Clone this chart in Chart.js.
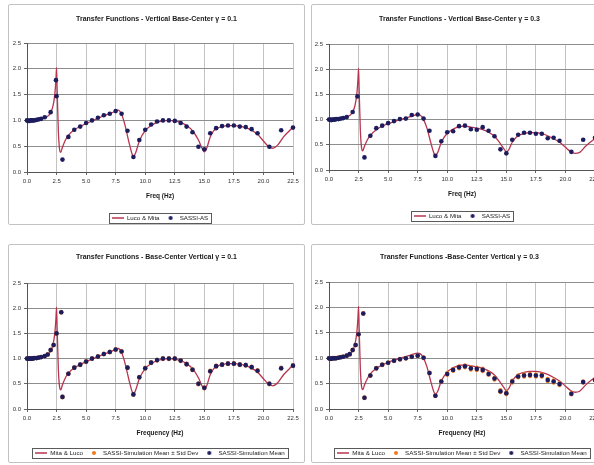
<!DOCTYPE html>
<html>
<head>
<meta charset="utf-8">
<script src="https://cdn.jsdelivr.net/npm/chart.js@4"></script>
<style>
  html, body { margin: 0; padding: 0; background: #fff; width: 594px; height: 465px; overflow: hidden; }
  .panel { position: absolute; box-sizing: border-box; border: 1px solid #c2c2c2; border-radius: 2px; background: #fff; }
  canvas { position: absolute; }
</style>
</head>
<body>
<script>
// ---- Analytical transfer function (Luco & Mita), shared frequency grid ----
const lucoMitaFreq = [0,0.5,1.0,1.5,1.8,2.0,2.2,2.35,2.45,2.5,
  2.55,2.65,2.75,2.85,3.0,3.25,3.5,4.0,4.5,5.0,
  5.5,6.0,6.5,7.0,7.5,7.7,8.0,8.3,8.6,8.9,
  9.0,9.2,9.5,10.0,10.5,11.0,11.5,12.0,12.5,13.0,
  13.5,14.0,14.5,14.8,15.0,15.2,15.5,15.8,16.0,16.5,
  17.0,17.5,18.0,18.5,19.0,19.5,20.0,20.4,20.8,21.2,
  21.7,22.2,22.5];
const lucoMitaG01 = [1.0,1.005,1.02,1.05,1.09,1.15,1.28,1.5,1.8,2.02,
  1.6,0.8,0.45,0.38,0.48,0.62,0.71,0.82,0.88,0.94,
  0.99,1.04,1.09,1.13,1.18,1.2,1.12,0.9,0.6,0.34,
  0.3,0.38,0.6,0.8,0.9,0.96,0.99,1.0,0.99,0.96,
  0.9,0.8,0.62,0.46,0.39,0.46,0.68,0.8,0.84,0.88,
  0.9,0.9,0.89,0.86,0.81,0.73,0.6,0.5,0.46,0.52,
  0.68,0.8,0.87];
const lucoMitaG03 = [1.0,1.005,1.02,1.05,1.09,1.15,1.28,1.5,1.8,2.02,
  1.6,0.8,0.45,0.38,0.47,0.6,0.69,0.8,0.87,0.92,
  0.96,1.0,1.03,1.07,1.1,1.09,1.0,0.82,0.55,0.32,
  0.29,0.35,0.55,0.73,0.81,0.86,0.87,0.85,0.83,0.8,
  0.75,0.67,0.52,0.42,0.36,0.4,0.55,0.64,0.68,0.72,
  0.74,0.74,0.72,0.68,0.62,0.55,0.45,0.37,0.33,0.35,
  0.47,0.57,0.62];

// ---- SASSI-AS results ----
const sassiAsFreqG01 = [0,0.1,0.2,0.3,0.4,0.5,0.6,0.8,1.0,1.2,1.5,2.0,2.45,2.5,
  3.0,3.5,4.0,4.5,5.0,5.5,6.0,6.5,7.0,7.5,
  8.0,8.5,9.0,9.5,10.0,10.5,11.0,11.5,12.0,12.5,
  13.0,13.5,14.0,14.5,15.0,15.5,16.0,16.5,17.0,17.5,
  18.0,18.5,19.0,19.5,20.5,21.5,22.5];
const sassiAsG01 = [1.0,0.99,0.99,1.0,1.0,1.0,1.0,1.01,1.02,1.03,1.06,1.16,1.78,1.47,
  0.24,0.68,0.82,0.88,0.95,1.0,1.05,1.1,1.13,1.18,
  1.13,0.8,0.29,0.62,0.82,0.92,0.98,1.0,1.0,0.99,
  0.95,0.88,0.77,0.49,0.44,0.75,0.85,0.89,0.9,0.9,
  0.88,0.87,0.83,0.75,0.49,0.81,0.86];
const sassiAsFreqG03 = [0,0.1,0.2,0.3,0.4,0.5,0.6,0.8,1.0,1.2,1.5,2.0,2.4,
  3.0,3.5,4.0,4.5,5.0,5.5,6.0,6.5,7.0,7.5,
  8.0,8.5,9.0,9.5,10.0,10.5,11.0,11.5,12.0,12.5,
  13.0,13.5,14.0,14.5,15.0,15.5,16.0,16.5,17.0,17.5,
  18.0,18.5,19.0,19.5,20.5,21.5,22.5];
const sassiAsG03 = [1.0,1.0,0.99,1.0,1.0,1.0,1.01,1.01,1.02,1.03,1.05,1.15,1.46,
  0.25,0.68,0.83,0.88,0.93,0.97,1.01,1.02,1.09,1.1,
  1.02,0.78,0.28,0.57,0.75,0.77,0.87,0.88,0.81,0.8,
  0.85,0.78,0.67,0.41,0.33,0.6,0.7,0.74,0.74,0.72,
  0.72,0.63,0.64,0.58,0.36,0.6,0.64];

// ---- SASSI simulation statistics ----
const simFreq = [0,0.1,0.2,0.3,0.4,0.5,0.6,0.8,1.0,1.2,1.5,
  1.75,2.0,2.25,2.5,2.9,
  3.0,3.5,4.0,4.5,5.0,5.5,6.0,6.5,7.0,7.5,
  8.0,8.5,9.0,9.5,10.0,10.5,11.0,11.5,12.0,12.5,
  13.0,13.5,14.0,14.5,15.0,15.5,16.0,16.5,17.0,17.5,
  18.0,18.5,19.0,19.5,
  20.5,21.5,22.5];
const simMeanG01 = [1.0,1.0,1.0,1.0,1.0,1.0,1.01,1.01,1.02,1.03,1.05,
  1.08,1.17,1.27,1.5,1.92,
  0.24,0.7,0.82,0.88,0.94,1.0,1.04,1.09,1.13,1.18,
  1.14,0.82,0.29,0.63,0.81,0.92,0.97,1.0,1.0,1.0,
  0.96,0.89,0.78,0.5,0.42,0.75,0.85,0.88,0.9,0.9,
  0.88,0.87,0.83,0.76,
  0.5,0.81,0.86];
const simStdG01 = [0.005,0.005,0.005,0.005,0.005,0.005,0.005,0.005,0.005,0.005,0.005,
  0.01,0.01,0.01,0.01,0.01,
  0.01,0.01,0.01,0.01,0.01,0.01,0.01,0.01,0.01,0.01,
  0.01,0.01,0.01,0.01,0.012,0.012,0.012,0.012,0.012,0.012,
  0.012,0.012,0.012,0.012,0.012,0.012,0.012,0.012,0.012,0.012,
  0.012,0.012,0.012,0.012,
  0.012,0.012,0.012];
const simMeanG03 = [1.0,0.99,0.99,1.0,1.0,1.0,1.0,1.01,1.02,1.03,1.05,
  1.08,1.16,1.26,1.47,1.88,
  0.22,0.66,0.8,0.87,0.91,0.95,0.98,1.0,1.03,1.05,
  1.01,0.71,0.26,0.54,0.69,0.77,0.82,0.84,0.8,0.79,
  0.77,0.69,0.6,0.35,0.31,0.54,0.64,0.66,0.67,0.66,
  0.66,0.57,0.54,0.49,
  0.3,0.53,0.57];
const simStdG03 = [0.008,0.008,0.008,0.008,0.008,0.008,0.008,0.008,0.008,0.008,0.008,
  0.01,0.01,0.01,0.01,0.01,
  0.01,0.01,0.01,0.01,0.01,0.01,0.01,0.01,0.01,0.01,
  0.01,0.01,0.01,0.01,0.022,0.022,0.022,0.022,0.025,0.025,
  0.025,0.022,0.022,0.022,0.022,0.022,0.022,0.025,0.025,0.025,
  0.025,0.025,0.025,0.022,
  0.015,0.015,0.015];

// ---- Axis ticks ----
const freqTicks = [0, 2.5, 5.0, 7.5, 10.0, 12.5, 15.0, 17.5, 20.0, 22.5];
const ampTicks = [0, 0.5, 1.0, 1.5, 2.0, 2.5];

// ---- Styling ----
const FONT = "'Liberation Sans', Arial, sans-serif";
const LINE_COLOR = '#b8344f';
const DOT_COLOR = '#1d1d5e';
const STD_COLOR = '#f07a22';
const TITLE_SIZE = 7, TICK_SIZE = 6, AXIS_TITLE_SIZE = 6.5, LEG_SIZE = 6.2, LEG_PAD = 5;

function pts(xs, ys) { return xs.map((x, i) => ({ x, y: ys[i] })); }
function bandPts(xs, mean, sd) {
  const out = [];
  xs.forEach((x, i) => { out.push({ x, y: mean[i] + sd[i] }); out.push({ x, y: mean[i] - sd[i] }); });
  return out;
}

function lineIcon(color) {
  const c = document.createElement('canvas'); c.width = 12; c.height = 4;
  const g = c.getContext('2d'); g.strokeStyle = color; g.lineWidth = 1.5;
  g.beginPath(); g.moveTo(0, 2); g.lineTo(12, 2); g.stroke();
  return c;
}
function dotIcon(color) {
  const c = document.createElement('canvas'); c.width = 6; c.height = 6;
  const g = c.getContext('2d'); g.fillStyle = color;
  g.beginPath(); g.arc(3, 3, 2.0, 0, Math.PI * 2); g.fill();
  return c;
}

function lineSet(label, xs, ys) {
  return { label, data: pts(xs, ys), showLine: true, borderColor: LINE_COLOR, borderWidth: 1.3,
    pointRadius: 0, cubicInterpolationMode: 'monotone', order: 3, legendIcon: lineIcon(LINE_COLOR) };
}
function dotSet(label, data, color, order, radius) {
  return { label, data, showLine: false, pointRadius: radius, pointBackgroundColor: color,
    pointBorderWidth: 0, backgroundColor: color, borderColor: color, order, clip: 6, legendIcon: dotIcon(color) };
}

// Center the legend on the plot area, the title on the whole panel, and frame the legend.
const panelDecor = {
  id: 'panelDecor',
  afterLayout(chart) {
    const a = chart.chartArea, lg = chart.legend;
    if (lg) { lg.left = a.left; lg.right = a.right; lg.width = a.right - a.left; }
    const t = chart.titleBlock;
    if (t) { t.left = 0; t.right = chart.width; t.width = chart.width; }
  },
  afterDraw(chart) {
    const hb = chart.legend && chart.legend.legendHitBoxes;
    if (!hb || !hb.length) return;
    let l = Infinity, r = -Infinity, t = Infinity, b = -Infinity;
    hb.forEach(h => { l = Math.min(l, h.left); r = Math.max(r, h.left + h.width); t = Math.min(t, h.top); b = Math.max(b, h.top + h.height); });
    const ctx = chart.ctx;
    ctx.save();
    ctx.strokeStyle = '#5a5a5a'; ctx.lineWidth = 1;
    ctx.strokeRect(Math.round(l - 3) + 0.5, Math.round(t - 2) + 0.5, Math.round(r - l + 6), Math.round(b - t + 4));
    ctx.restore();
  }
};

function buildPanel(g, titleText, xTitle, datasets) {
  const div = document.createElement('div');
  div.className = 'panel';
  Object.assign(div.style, { left: g.left + 'px', top: g.top + 'px', width: g.width + 'px', height: g.height + 'px' });
  document.body.appendChild(div);
  const cv = document.createElement('canvas');
  cv.width = g.width; cv.height = g.height;
  Object.assign(cv.style, { left: g.left + 'px', top: g.top + 'px', width: g.width + 'px', height: g.height + 'px' });
  document.body.appendChild(cv);

  const pl = g.plotLeft - g.left, pr = g.plotRight - g.left;
  const pt = g.plotTop - g.top, pb = g.plotBottom - g.top;
  const titleLH = TITLE_SIZE * 1.2;
  const tPadTop = (g.titleY - g.top) - titleLH / 2;
  const tPadBottom = pt - titleLH - tPadTop;
  const legTop = (g.legendY - g.top) - LEG_PAD - LEG_SIZE / 2;
  const legH = g.height - legTop;
  const xScaleH = legTop - pb;
  const xTitlePadBottom = legTop - (g.xTitleY - g.top) - AXIS_TITLE_SIZE * 1.2 / 2;

  new Chart(cv, {
    type: 'scatter',
    data: { datasets },
    options: {
      responsive: false, animation: false, devicePixelRatio: 1,
      layout: { padding: { left: 0, top: 0, bottom: 0, right: g.width - pr } },
      plugins: {
        title: { display: true, text: titleText, color: '#1a1a1a',
          font: { family: FONT, size: TITLE_SIZE, weight: 'bold' },
          padding: { top: tPadTop, bottom: tPadBottom } },
        legend: { position: 'bottom', maxHeight: legH,
          labels: { usePointStyle: true, pointStyleWidth: 12, padding: LEG_PAD, color: '#222',
            font: { family: FONT, size: LEG_SIZE },
            generateLabels(chart) {
              const items = Chart.defaults.plugins.legend.labels.generateLabels(chart);
              items.sort((a, b) => a.datasetIndex - b.datasetIndex);
              items.forEach(it => { it.pointStyle = chart.data.datasets[it.datasetIndex].legendIcon; });
              return items;
            } } },
        tooltip: { enabled: false }
      },
      scales: {
        x: { type: 'linear', min: freqTicks[0], max: freqTicks[freqTicks.length - 1],
          afterBuildTicks: s => { s.ticks = freqTicks.map(v => ({ value: v })); },
          ticks: { autoSkip: false, maxRotation: 0, padding: 3, color: '#333',
            font: { family: FONT, size: TICK_SIZE }, callback: v => Number(v).toFixed(1) },
          grid: { color: '#c3c3c3', tickColor: '#666', tickLength: 3, lineWidth: 1 },
          border: { color: '#555', width: 1 },
          title: { display: true, text: xTitle, color: '#1a1a1a',
            font: { family: FONT, size: AXIS_TITLE_SIZE, weight: 'bold' },
            padding: { top: 0, bottom: xTitlePadBottom } },
          afterFit: s => { s.height = xScaleH; } },
        y: { type: 'linear', min: ampTicks[0], max: ampTicks[ampTicks.length - 1],
          afterBuildTicks: s => { s.ticks = ampTicks.map(v => ({ value: v })); },
          ticks: { padding: 3, color: '#333', font: { family: FONT, size: TICK_SIZE },
            callback: v => Number(v).toFixed(1) },
          grid: { color: '#8e8e8e', tickColor: '#666', tickLength: 3, lineWidth: 1 },
          border: { color: '#555', width: 1 },
          afterFit: s => { s.width = pl; } }
      }
    },
    plugins: [panelDecor]
  });
}

buildPanel(
  { left: 8, top: 4, width: 297, height: 221, plotLeft: 27, plotRight: 293, plotTop: 43, plotBottom: 172, titleY: 19, xTitleY: 196, legendY: 218 },
  'Transfer Functions - Vertical Base-Center \u03b3 = 0.1', 'Freq (Hz)',
  [ lineSet('Luco & Mita', lucoMitaFreq, lucoMitaG01),
    dotSet('SASSI-AS', pts(sassiAsFreqG01, sassiAsG01), DOT_COLOR, 1, 2.3) ]);

buildPanel(
  { left: 311, top: 4, width: 297, height: 221, plotLeft: 329, plotRight: 595, plotTop: 44, plotBottom: 170, titleY: 19, xTitleY: 194, legendY: 216 },
  'Transfer Functions - Vertical Base-Center \u03b3 = 0.3', 'Freq (Hz)',
  [ lineSet('Luco & Mita', lucoMitaFreq, lucoMitaG03),
    dotSet('SASSI-AS', pts(sassiAsFreqG03, sassiAsG03), DOT_COLOR, 1, 2.3) ]);

buildPanel(
  { left: 8, top: 244, width: 297, height: 219, plotLeft: 27, plotRight: 293, plotTop: 283, plotBottom: 409, titleY: 257, xTitleY: 433, legendY: 453 },
  'Transfer Functions - Base-Center Vertical \u03b3 = 0.1', 'Frequency (Hz)',
  [ lineSet('Mita & Luco', lucoMitaFreq, lucoMitaG01),
    dotSet('SASSI-Simulation Mean \u00b1 Std Dev', bandPts(simFreq, simMeanG01, simStdG01), STD_COLOR, 2, 2.0),
    dotSet('SASSI-Simulation Mean', pts(simFreq, simMeanG01), DOT_COLOR, 1, 2.3) ]);

buildPanel(
  { left: 311, top: 244, width: 297, height: 219, plotLeft: 329, plotRight: 595, plotTop: 282, plotBottom: 409, titleY: 257, xTitleY: 433, legendY: 453 },
  'Transfer Functions -Base-Center Vertical \u03b3 = 0.3', 'Frequency (Hz)',
  [ lineSet('Mita & Luco', lucoMitaFreq, lucoMitaG03),
    dotSet('SASSI-Simulation Mean \u00b1 Std Dev', bandPts(simFreq, simMeanG03, simStdG03), STD_COLOR, 2, 2.0),
    dotSet('SASSI-Simulation Mean', pts(simFreq, simMeanG03), DOT_COLOR, 1, 2.3) ]);
</script>
</body>
</html>
